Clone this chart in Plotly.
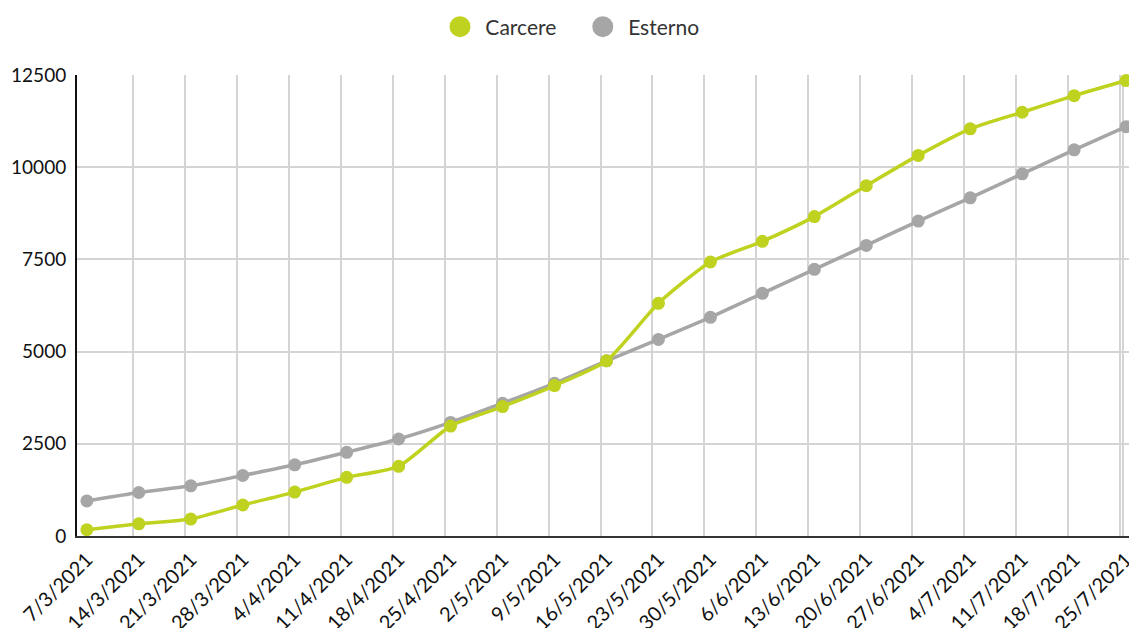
import plotly.graph_objects as go

dates = ["7/3/2021", "14/3/2021", "21/3/2021", "28/3/2021", "4/4/2021", "11/4/2021",
         "18/4/2021", "25/4/2021", "2/5/2021", "9/5/2021", "16/5/2021", "23/5/2021",
         "30/5/2021", "6/6/2021", "13/6/2021", "20/6/2021", "27/6/2021", "4/7/2021",
         "11/7/2021", "18/7/2021", "25/7/2021"]
carcere = [170, 330, 460, 840, 1190, 1590, 1890, 2980, 3510, 4080, 4750, 6310,
           7430, 7990, 8660, 9500, 10320, 11040, 11490, 11940, 12350]
esterno = [950, 1180, 1360, 1640, 1930, 2270, 2630, 3080, 3600, 4140, 4750, 5330,
           5930, 6580, 7230, 7880, 8540, 9170, 9820, 10470, 11100]
y_ticks = [0, 2500, 5000, 7500, 10000, 12500]

GREEN = "#BFD21F"
GRAY = "#A6A6A6"
FONT = "Lato"
NB = "\u00a0"

idx = list(range(len(dates)))
grid_pos = [i - 0.115 for i in range(1, len(dates))] + [len(dates) - 1 - 0.05]
x_range = [-0.19, len(dates) - 1 + 0.056]

fig = go.Figure()
for name, vals, col in [("Esterno", esterno, GRAY), ("Carcere", carcere, GREEN)]:
    fig.add_trace(go.Scatter(
        x=idx, y=vals, mode="lines+markers", name=name, showlegend=False,
        line=dict(color=col, width=3.5, shape="spline", smoothing=0.6),
        marker=dict(color=col, size=13), cliponaxis=False,
    ))
for name, col in [(NB + "Carcere" + NB * 4, GREEN), (NB + "Esterno", GRAY)]:
    fig.add_trace(go.Scatter(
        x=[None], y=[None], mode="markers", name=name,
        marker=dict(color=col, size=16, line=dict(color=col, width=5)),
    ))

fig.update_layout(
    width=1129, height=628,
    margin=dict(l=77, r=0, t=75, b=92, autoexpand=False),
    paper_bgcolor="white", plot_bgcolor="white",
    font=dict(family=FONT, color="#111"),
    showlegend=True,
    legend=dict(orientation="h", x=0.471, xanchor="center", y=1 - 27 / 628, yanchor="middle",
                yref="container", font=dict(family=FONT, size=21, color="#333"),
                traceorder="normal"),
    xaxis=dict(range=x_range, tickmode="array", tickvals=idx, ticktext=dates,
               tickangle=-45, showgrid=False, zeroline=False, automargin=False,
               showline=True, linecolor="#333", linewidth=2, ticks="",
               ticklabelstandoff=2, ticklabeloverflow="allow",
               tickfont=dict(family=FONT, size=20, color="#111")),
    xaxis2=dict(overlaying="x", anchor="y", range=x_range, tickmode="array",
                tickvals=grid_pos, showticklabels=False, showgrid=True, automargin=False,
                gridcolor="#D4D4D4", gridwidth=2, zeroline=False, showline=False, ticks=""),
    yaxis=dict(range=[0, 12500], tickmode="array", tickvals=y_ticks,
               ticktext=[str(v) for v in y_ticks], automargin=False,
               showgrid=True, gridcolor="#D4D4D4", gridwidth=2, zeroline=False,
               showline=True, linecolor="#111", linewidth=2, ticks="",
               ticklabelstandoff=5,
               tickfont=dict(family=FONT, size=19, color="#111")),
)
fig.add_trace(go.Scatter(x=[None], y=[None], xaxis="x2", yaxis="y", showlegend=False,
                         hoverinfo="skip"))

fig.write_html(
    "out.html",
    config={"displayModeBar": False},
    post_script="document.body.style.margin='0';document.body.style.overflow='hidden';",
)
